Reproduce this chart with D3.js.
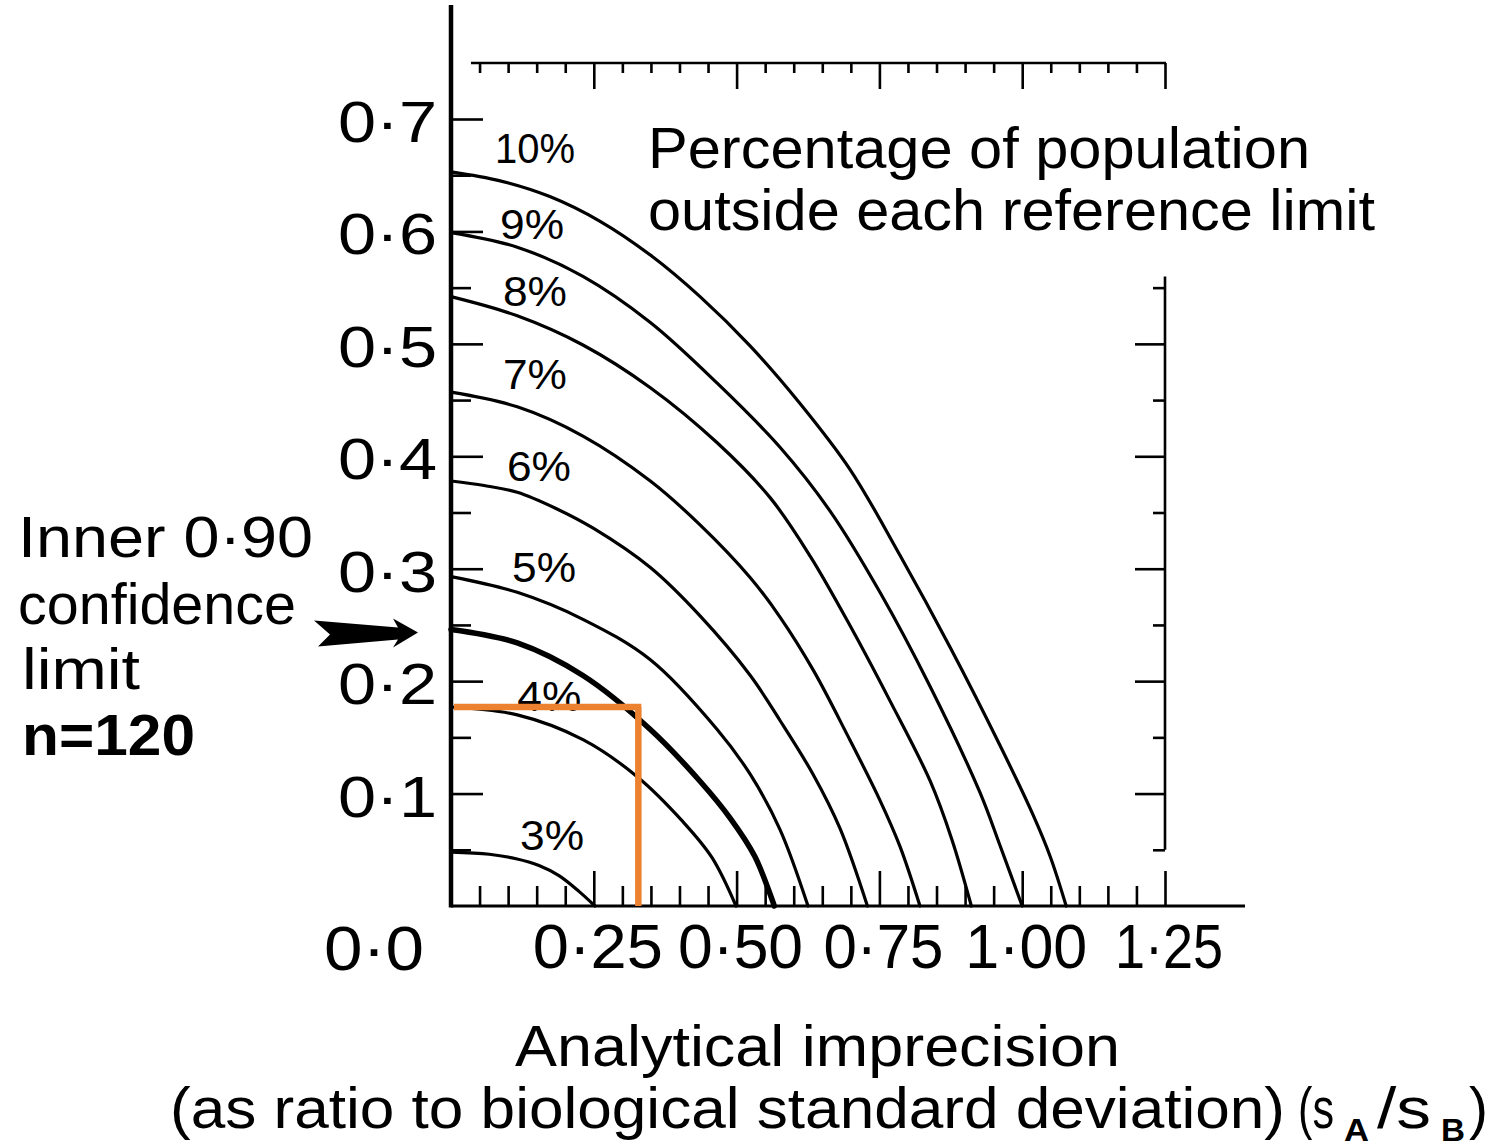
<!DOCTYPE html>
<html><head><meta charset="utf-8">
<script src="https://cdn.jsdelivr.net/npm/d3@7"></script>
<style>
html,body{margin:0;padding:0;background:#fff;}
svg{display:block;}
text{font-family:"Liberation Sans", Arial, sans-serif; fill:#000;}
</style></head><body>
<svg id="chart" width="1493" height="1148"></svg>
<script>
// ---------- data ----------
const yTickValues = [0.1, 0.2, 0.3, 0.4, 0.5, 0.6, 0.7];
const yTickLabels = ["0·1", "0·2", "0·3", "0·4", "0·5", "0·6", "0·7"];
const xTickValues = [0.25, 0.5, 0.75, 1.0, 1.25];
const xTickLabels = ["0·25", "0·50", "0·75", "1·00", "1·25"];
const originLabel = "0·0";

const curveNames = ["10%", "9%", "8%", "7%", "6%", "5%", "4%", "3%"];
const curve10 = [[0,0.653],[0.086,0.645],[0.173,0.631],[0.261,0.609],[0.349,0.579],[0.436,0.542],[0.524,0.498],[0.611,0.447],[0.699,0.388],[0.786,0.312],[0.874,0.230],[0.961,0.143],[1.019,0.081],[1.049,0.044],[1.077,0]];
const curve9  = [[0,0.599],[0.116,0.586],[0.231,0.560],[0.349,0.519],[0.466,0.465],[0.576,0.408],[0.664,0.351],[0.751,0.279],[0.839,0.195],[0.926,0.101],[0.961,0.054],[1.000,0]];
const curve8  = [[0,0.542],[0.116,0.525],[0.231,0.499],[0.349,0.461],[0.466,0.412],[0.559,0.363],[0.629,0.311],[0.699,0.249],[0.769,0.182],[0.839,0.111],[0.877,0.059],[0.911,0]];
const curve7  = [[0,0.457],[0.116,0.444],[0.231,0.418],[0.349,0.378],[0.436,0.339],[0.524,0.292],[0.576,0.257],[0.634,0.210],[0.694,0.152],[0.751,0.094],[0.786,0.053],[0.821,0]];
const curve6  = [[0,0.378],[0.058,0.374],[0.116,0.368],[0.182,0.354],[0.249,0.336],[0.349,0.301],[0.436,0.258],[0.524,0.205],[0.576,0.165],[0.634,0.117],[0.681,0.069],[0.729,0]];
const curve5  = [[0,0.293],[0.116,0.279],[0.231,0.255],[0.349,0.219],[0.466,0.157],[0.524,0.117],[0.576,0.068],[0.625,0]];
const curve4  = [[0,0.177],[0.116,0.170],[0.231,0.148],[0.326,0.115],[0.406,0.075],[0.457,0.043],[0.499,0]];
const curve3  = [[0,0.048],[0.067,0.046],[0.114,0.042],[0.154,0.036],[0.189,0.027],[0.224,0.013],[0.252,0]];
// inner 0.90 confidence limit, n = 120 (thick curve)
const confLimit = [[0,0.246],[0.116,0.234],[0.231,0.205],[0.349,0.157],[0.436,0.111],[0.489,0.078],[0.532,0.044],[0.566,0]];

// label anchors (data units: imprecision, bias)
const labelX = [0.077, 0.086, 0.091, 0.091, 0.098, 0.107, 0.116, 0.121];
const labelY = [0.661, 0.593, 0.534, 0.460, 0.378, 0.288, 0.173, 0.050];

// orange highlight
const markX = 0.328;
const markY = 0.177;

const legendLines = ["Percentage of population", "outside each reference limit"];
const sideLines = ["Inner 0·90", "confidence", "limit", "n=120"];
const xTitle = "Analytical imprecision";
const xSubtitle = "(as ratio to biological standard deviation)";

// ---------- drawing ----------
const svg = d3.select("#chart");
const x = d3.scaleLinear().domain([0, 1.25]).range([451, 1165]);
const y = d3.scaleLinear().domain([0, 0.7]).range([906, 119]);

const step = 0.05;
const minorX = d3.range(1, 26).map(i => +(i * step).toFixed(2)).filter(v => Math.abs(v / 0.25 - Math.round(v / 0.25)) > 1e-6);
const minorY = d3.range(1, 15).map(i => +(i * step).toFixed(2)).filter(v => Math.abs(v / 0.1 - Math.round(v / 0.1)) > 1e-6);

function drawAxis(axis, transform) {
  const g = svg.append("g").attr("transform", transform).call(axis);
  g.select(".domain").remove();
  g.selectAll("line").attr("stroke", "#000").attr("stroke-width", 2.6);
  g.selectAll("text").remove();
  return g;
}

// bottom axis ticks (pointing up)
drawAxis(d3.axisTop(x).tickValues(minorX).tickSize(20), `translate(0,${y(0)})`);
drawAxis(d3.axisTop(x).tickValues(xTickValues).tickSize(35), `translate(0,${y(0)})`);
// top axis ticks (pointing down)
const topY = 63;
drawAxis(d3.axisBottom(x).tickValues(minorX).tickSize(10), `translate(0,${topY})`);
drawAxis(d3.axisBottom(x).tickValues(xTickValues).tickSize(26), `translate(0,${topY})`);
// left axis ticks (pointing right)
drawAxis(d3.axisRight(y).tickValues(minorY).tickSize(20), `translate(${x(0)},0)`);
drawAxis(d3.axisRight(y).tickValues(yTickValues).tickSize(32), `translate(${x(0)},0)`);
// right axis ticks (pointing left)
const rightMinor = minorY.filter(v => v < 0.56);
const rightMajor = yTickValues.filter(v => v < 0.56);
drawAxis(d3.axisLeft(y).tickValues(rightMinor).tickSize(12), `translate(${x(1.25)},0)`);
drawAxis(d3.axisLeft(y).tickValues(rightMajor).tickSize(30), `translate(${x(1.25)},0)`);

// axis lines
svg.append("line").attr("x1", x(0)).attr("x2", x(0)).attr("y1", 5).attr("y2", y(0) + 1.5)
  .attr("stroke", "#000").attr("stroke-width", 4.5);
svg.append("line").attr("x1", x(0)).attr("x2", 1245).attr("y1", y(0)).attr("y2", y(0))
  .attr("stroke", "#000").attr("stroke-width", 3);
svg.append("line").attr("x1", x(0.035)).attr("x2", x(1.25) + 1).attr("y1", topY).attr("y2", topY)
  .attr("stroke", "#000").attr("stroke-width", 2.6);
svg.append("line").attr("x1", x(1.25)).attr("x2", x(1.25)).attr("y1", y(0.56)).attr("y2", y(0.05))
  .attr("stroke", "#000").attr("stroke-width", 2.6);

// curves
const line = d3.line().x(d => x(d[0])).y(d => y(d[1])).curve(d3.curveCatmullRom.alpha(0.5));
const curves = [curve10, curve9, curve8, curve7, curve6, curve5, curve4, curve3];
svg.append("g").selectAll("path").data(curves).join("path")
  .attr("d", line).attr("fill", "none").attr("stroke", "#000").attr("stroke-width", 3.2)
  .attr("stroke-linecap", "round");
svg.append("path").datum(confLimit).attr("d", line).attr("fill", "none")
  .attr("stroke", "#000").attr("stroke-width", 5.5).attr("stroke-linecap", "round");

// curve labels
svg.append("g").selectAll("text").data(curveNames).join("text")
  .attr("x", (d, i) => x(labelX[i])).attr("y", (d, i) => y(labelY[i]))
  .attr("font-size", 42)
  .attr("textLength", d => d.length === 3 ? 80 : 64).attr("lengthAdjust", "spacingAndGlyphs")
  .text(d => d);

// y tick labels
svg.append("g").selectAll("text").data(yTickLabels).join("text")
  .attr("x", 437).attr("y", (d, i) => y(yTickValues[i]) + 23)
  .attr("text-anchor", "end").attr("font-size", 58)
  .attr("textLength", 99).attr("lengthAdjust", "spacingAndGlyphs")
  .text(d => d);

// x tick labels
const xLabelWidths = [130, 125, 120, 122, 108];
svg.append("g").selectAll("text").data(xTickLabels).join("text")
  .attr("x", (d, i) => x(xTickValues[i]) + 4).attr("y", 968)
  .attr("text-anchor", "middle").attr("font-size", 63)
  .attr("textLength", (d, i) => xLabelWidths[i]).attr("lengthAdjust", "spacingAndGlyphs")
  .text(d => d);
svg.append("text").attr("x", 374).attr("y", 970).attr("text-anchor", "middle")
  .attr("font-size", 63).attr("textLength", 100).attr("lengthAdjust", "spacingAndGlyphs")
  .text(originLabel);

// legend text
const legendW = [662, 727];
svg.append("g").selectAll("text").data(legendLines).join("text")
  .attr("x", 648).attr("y", (d, i) => 168 + i * 62).attr("font-size", 57)
  .attr("textLength", (d, i) => legendW[i]).attr("lengthAdjust", "spacingAndGlyphs")
  .text(d => d);

// side annotation
const sideW = [295, 278, 118, 173];
const sideX = [18, 18, 22, 22];
const sideBase = [557, 624, 689, 755];
svg.append("g").selectAll("text").data(sideLines).join("text")
  .attr("x", (d, i) => sideX[i]).attr("y", (d, i) => sideBase[i]).attr("font-size", 57)
  .attr("font-weight", (d, i) => i === 3 ? "bold" : "normal")
  .attr("textLength", (d, i) => sideW[i]).attr("lengthAdjust", "spacingAndGlyphs")
  .text(d => d);

// arrow pointing to confidence-limit curve
const tipX = x(0) - 33, tipY = y(confLimit[0][1]) + 3;
svg.append("path")
  .attr("transform", `translate(${tipX},${tipY})`)
  .attr("d", "M0,0 L-25,-14 L-20,-5 L-104,-12 L-88,2 L-100,14 L-20,7 L-25,15 Z")
  .attr("fill", "#000");

// x titles
svg.append("text").attr("x", 515).attr("y", 1066).attr("font-size", 57)
  .attr("textLength", 605).attr("lengthAdjust", "spacingAndGlyphs").text(xTitle);
svg.append("text").attr("x", 170).attr("y", 1128).attr("font-size", 57)
  .attr("textLength", 1115).attr("lengthAdjust", "spacingAndGlyphs").text(xSubtitle);
svg.append("text").attr("x", 1298).attr("y", 1128).attr("font-size", 57)
  .attr("textLength", 36).attr("lengthAdjust", "spacingAndGlyphs").text("(s");
svg.append("text").attr("x", 1344).attr("y", 1141).attr("font-size", 32).attr("font-weight", "bold")
  .attr("textLength", 25).attr("lengthAdjust", "spacingAndGlyphs").text("A");
svg.append("text").attr("x", 1377).attr("y", 1128).attr("font-size", 57)
  .attr("textLength", 54).attr("lengthAdjust", "spacingAndGlyphs").text("/s");
svg.append("text").attr("x", 1441).attr("y", 1141).attr("font-size", 32).attr("font-weight", "bold")
  .attr("textLength", 24).attr("lengthAdjust", "spacingAndGlyphs").text("B");
svg.append("text").attr("x", 1469).attr("y", 1128).attr("font-size", 57).text(")");

// orange highlight
const orange = "#ec8130";
svg.append("path")
  .attr("d", `M${x(0) + 3},${y(markY)} L${x(markX) + 3},${y(markY)} M${x(markX)},${y(markY)} L${x(markX)},${y(0)}`)
  .attr("fill", "none").attr("stroke", orange).attr("stroke-width", 6.5);
</script>
</body></html>
